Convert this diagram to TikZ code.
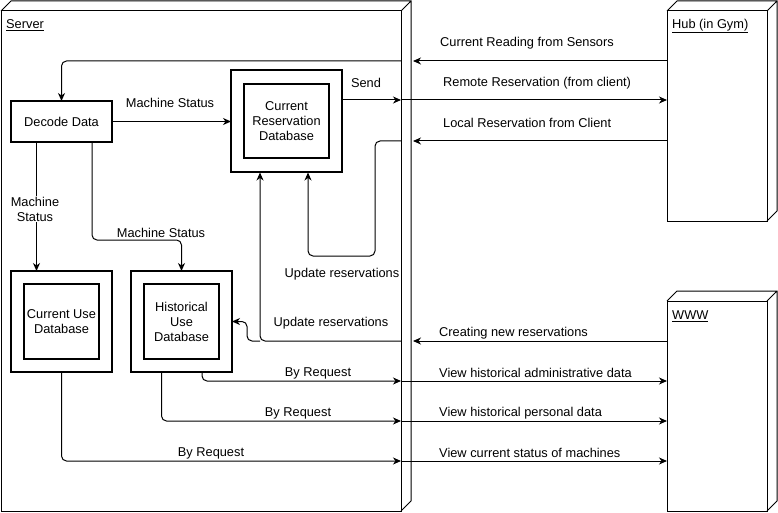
\documentclass[tikz,border=0pt]{standalone}
\usepackage{fontspec}
\setmainfont{Liberation Sans}
\usetikzlibrary{arrows.meta,positioning}

\begin{document}
\begin{tikzpicture}[
    x=1pt, y=-1pt,
    >={Stealth[length=8pt,width=7pt,inset=2.5pt]},
    conn/.style={->, draw, line width=1pt, rounded corners=5pt},
    box/.style={draw, line width=2pt, inner sep=0pt, outer sep=0pt, align=center},
    cube/.style={draw, line width=1pt, inner sep=0pt, outer sep=0pt},
    lbl/.style={inner sep=0pt, align=center},
    every node/.style={font=\fontsize{12.8}{15}\selectfont}]

    \useasboundingbox (0,0) rectangle (778,513);

    \node[cube, minimum width=400, minimum height=500] (server) at (201,261) {};
    \node[cube, minimum width=100, minimum height=210] (hub) at (717,116) {};
    \node[cube, minimum width=100, minimum height=210] (www) at (717,406) {};
    \foreach \n in {server,hub,www}
        \draw[line width=1pt] (\n.north west) -- ++(10,-10) -| ([shift={(10,-10)}]\n.south east)
            -- (\n.south east) (\n.north east) -- ++(10,-10);
    \node[lbl, anchor=west] (serverlbl) at (6,25) {\underline{Server}};
    \node[lbl, anchor=west] (hublbl) at (672,26) {\underline{Hub (in Gym)}};
    \node[lbl, anchor=west] (wwwlbl) at (672,316) {\underline{WWW}};

    \node[box, minimum width=101, minimum height=41] (decode) at (61.5,121.5) {Decode Data};
    \node[box, minimum width=111, minimum height=102, right=119pt of decode] (crd) {};
        \node[box, minimum width=85, minimum height=74] (crdin) at (crd) {Current\\Reservation\\Database};
    \node[box, minimum size=101, below=129pt of decode] (cud) {};
        \node[box, minimum size=75] (cudin) at (cud) {Current Use\\Database};
    \node[box, minimum size=101, right=19pt of cud] (hud) {};
        \node[box, minimum size=75] (hudin) at (hud) {Historical\\Use\\Database};

    \coordinate (sreading) at (401,61);
    \coordinate (ssend) at (401,100);
    \coordinate (slocal) at (401,141);
    \coordinate (screate) at (401,341);
    \coordinate (sadmin) at (401,381);
    \coordinate (spers) at (401,421);
    \coordinate (scur) at (401,461);
    \coordinate (split) at (260,341);

    \draw[conn] (hub.west |- sreading) -- ([xshift=12pt]sreading);
    \draw[conn] (sreading) -| (decode.north);
    \draw[conn] (decode.east) -- (crd.west |- decode.east);
    \draw[conn] (crd.east |- ssend) -- (ssend);
    \draw[conn] (ssend) -- (hub.west |- ssend);
    \draw[conn] (hub.west |- slocal) -- ([xshift=12pt]slocal);
    \draw[conn] (slocal) -| (375,256) -| ([xshift=21.5pt]crd.south);
    \draw[conn] (www.west |- screate) -- ([xshift=12pt]screate);
    \draw[conn] (screate) -| ([xshift=-26.5pt]crd.south);
    \draw[conn] (split) -| (247,321.5) -- (hud.east);
    \draw[conn] ([xshift=-25pt]decode.south) -- ([xshift=-25pt]cud.north);
    \draw[conn] ([xshift=30.5pt]decode.south) |- ([yshift=31pt]hud.north) -- (hud.north);
    \draw[conn] ([xshift=20.5pt]hud.south) |- (sadmin);
    \draw[conn] ([xshift=-20pt]hud.south) |- (spers);
    \draw[conn] (cud.south) |- (scur);
    \draw[conn] (sadmin) -- (www.west |- sadmin);
    \draw[conn] (spers) -- (www.west |- spers);
    \draw[conn] (scur) -- (www.west |- scur);

    \node[lbl] (ms1) at (170,103) {Machine Status};
    \node[lbl, fill=white, inner sep=1pt] (ms2) at (35,209) {Machine\\Status};
    \node[lbl] (ms3) at (161,233) {Machine Status};
    \node[lbl] (send) at (366,83) {Send};
    \node[lbl] (upd1) at (342,274) {Update reservations};
    \node[lbl] (upd2) at (331,323) {Update reservations};
    \node[lbl] (req1) at (318,373) {By Request};
    \node[lbl] (req2) at (298,413) {By Request};
    \node[lbl] (req3) at (211,453) {By Request};
    \node[lbl, anchor=west] (reading) at (440,43) {Current Reading from Sensors};
    \node[lbl, anchor=west] (remote) at (443,83) {Remote Reservation (from client)};
    \node[lbl, anchor=west] (local) at (443,123) {Local Reservation from Client};
    \node[lbl, anchor=west] (create) at (439,333) {Creating new reservations};
    \node[lbl, anchor=west] (admin) at (439,373) {View historical administrative data};
    \node[lbl, anchor=west] (pers) at (439,413) {View historical personal data};
    \node[lbl, anchor=west] (curst) at (439,453) {View current status of machines};

\end{tikzpicture}
\end{document}
